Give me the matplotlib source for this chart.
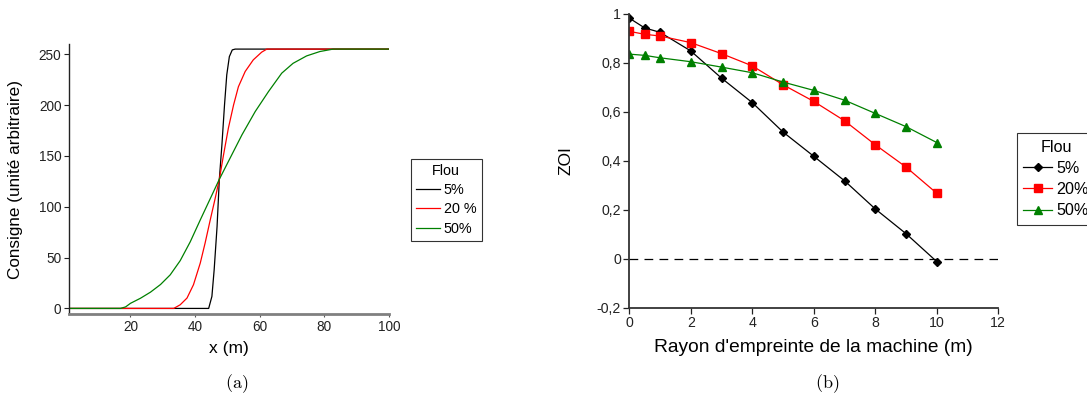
import matplotlib
matplotlib.use("Agg")
import matplotlib.pyplot as plt
from matplotlib.ticker import FixedLocator, FixedFormatter

plt.rcParams["font.family"] = ["Liberation Sans", "DejaVu Sans"]
plt.rcParams["mathtext.fontset"] = "cm"

# ---- (a) consigne profiles along x ----
x_5 = [1, 44.2, 45.2, 45.9, 46.8, 47.5, 48.3, 49.1, 49.8, 50.6, 51.5, 52.4, 100]
y_5 = [0, 0, 11.8, 38, 80.6, 127, 161, 200, 229.7, 247.6, 254.2, 255, 255]

x_20 = [1, 33.4, 35.4, 37.5, 39.5, 41.6, 43.1, 44.7, 46.2, 47.5, 48.8, 50.3,
        51.9, 53.4, 55.5, 58, 60.6, 62.2, 100]
y_20 = [0, 0, 3.6, 10.2, 23.3, 44.6, 64.3, 87.2, 108, 127, 151, 177.3,
        200, 218, 233, 244.4, 252, 255, 255]

x_50 = [1, 16.9, 18.5, 20, 23.1, 26.2, 29.3, 32.3, 35.4, 38.5, 41.6, 44.7,
        47.5, 50.3, 54.5, 58.6, 62.7, 66.8, 70.3, 74.5, 78.6, 82.7, 100]
y_50 = [0, 0, 1.5, 5, 10, 16, 23.5, 33, 47, 65.5, 87, 108,
        127, 144.5, 170.7, 193.6, 213.2, 231.3, 241, 248.3, 252.6, 255, 255]

a_xticks = [20, 40, 60, 80, 100]
a_yticks = [0, 50, 100, 150, 200, 250]
a_labels = ["5%", "20 %", "50%"]

# ---- (b) ZOI vs machine footprint radius ----
rayon = [0, 0.5, 1, 2, 3, 4, 5, 6, 7, 8, 9, 10]
zoi_5 = [0.982, 0.942, 0.924, 0.848, 0.737, 0.637, 0.517, 0.418, 0.318, 0.203, 0.102, -0.012]
zoi_20 = [0.928, 0.916, 0.909, 0.882, 0.837, 0.787, 0.710, 0.642, 0.563, 0.465, 0.374, 0.267]
zoi_50 = [0.835, 0.830, 0.820, 0.804, 0.782, 0.759, 0.721, 0.687, 0.647, 0.593, 0.539, 0.474]

b_xticks = [0, 2, 4, 6, 8, 10, 12]
b_yticks = [-0.2, 0, 0.2, 0.4, 0.6, 0.8, 1.0]
b_ytick_labels = ["-0,2", "0", "0,2", "0,4", "0,6", "0,8", "1"]
b_labels = ["5%", "20%", "50%"]

GREEN = "#008000"
RED = "#ff0000"

fig = plt.figure(figsize=(10.87, 4.03), dpi=100)

# ---------- panel (a) ----------
ax1 = fig.add_axes([0.0635, 0.2208, 0.2944, 0.670])
l1, = ax1.plot(x_5, y_5, color="black", lw=0.9)
l2, = ax1.plot(x_20, y_20, color=RED, lw=0.9)
l3, = ax1.plot(x_50, y_50, color=GREEN, lw=0.9)
ax1.set_xlim(1, 100)
ax1.set_ylim(-5.5, 260)
ax1.xaxis.set_major_locator(FixedLocator(a_xticks))
ax1.yaxis.set_major_locator(FixedLocator(a_yticks))
for s in ("top", "right"):
    ax1.spines[s].set_visible(False)
ax1.spines["left"].set_color("#222222")
ax1.spines["left"].set_linewidth(1.0)
ax1.spines["bottom"].set_color("#808080")
ax1.spines["bottom"].set_linewidth(2.0)
ax1.tick_params(axis="both", direction="out", length=3.5, width=0.8,
                labelsize=9.8, colors="#222222", pad=2)
ax1.tick_params(axis="x", length=2.5, colors="#555555", labelcolor="#222222")
ax1.set_xlabel("x (m)", fontsize=12.5)
ax1.set_ylabel("Consigne (unité arbitraire)", fontsize=12.3)
ax1.xaxis.set_label_coords(0.5, -0.10)
ax1.yaxis.set_label_coords(-0.145, 0.5)

leg1 = fig.legend([l1, l2, l3], a_labels, title="Flou",
                  loc="upper left", bbox_to_anchor=(0.3778, 0.6055),
                  fontsize=10.4, title_fontsize=10.4, frameon=True, fancybox=False,
                  handlelength=1.7, handletextpad=0.25, borderpad=0.35,
                  labelspacing=0.36, borderaxespad=0.0)
leg1.get_frame().set_edgecolor("black")
leg1.get_frame().set_linewidth(0.8)

# ---------- panel (b) ----------
ax2 = fig.add_axes([0.5789, 0.2365, 0.3395, 0.7295])
ax2.axhline(0, color="black", lw=0.9, ls=(0, (7, 5)))
m1, = ax2.plot(rayon, zoi_5, color="black", lw=0.9, marker="D", ms=3.6,
               mfc="black", mec="black")
m2, = ax2.plot(rayon, zoi_20, color=RED, lw=0.9, marker="s", ms=5.2,
               mfc=RED, mec=RED)
m3, = ax2.plot(rayon, zoi_50, color=GREEN, lw=0.9, marker="^", ms=5.3,
               mfc=GREEN, mec=GREEN)
ax2.set_xlim(0, 12)
ax2.set_ylim(-0.2, 1.0)
ax2.xaxis.set_major_locator(FixedLocator(b_xticks))
ax2.yaxis.set_major_locator(FixedLocator(b_yticks))
ax2.yaxis.set_major_formatter(FixedFormatter(b_ytick_labels))
for s in ("top", "right"):
    ax2.spines[s].set_visible(False)
for s in ("left", "bottom"):
    ax2.spines[s].set_color("#333333")
    ax2.spines[s].set_linewidth(1.3)
ax2.tick_params(axis="both", direction="out", length=4, width=0.9,
                labelsize=10.2, colors="#222222", pad=2)
ax2.set_xlabel("Rayon d'empreinte de la machine (m)", fontsize=13.8)
ax2.set_ylabel("ZOI", fontsize=12.5)
ax2.xaxis.set_label_coords(0.5, -0.105)
ax2.yaxis.set_label_coords(-0.15, 0.5)

leg2 = fig.legend([m1, m2, m3], b_labels, title="Flou",
                  loc="upper left", bbox_to_anchor=(0.9356, 0.669),
                  fontsize=11.6, title_fontsize=11.6, frameon=True, fancybox=False,
                  handlelength=1.8, handletextpad=0.25, borderpad=0.4,
                  labelspacing=0.38, borderaxespad=0.0)
leg2.get_frame().set_edgecolor("black")
leg2.get_frame().set_linewidth(0.8)

# ---------- captions ----------
fig.text(0.218, 0.047, r"$\mathrm{(a)}$", ha="center", va="center", fontsize=13)
fig.text(0.761, 0.047, r"$\mathrm{(b)}$", ha="center", va="center", fontsize=13)

fig.savefig("out.png", dpi=100)
